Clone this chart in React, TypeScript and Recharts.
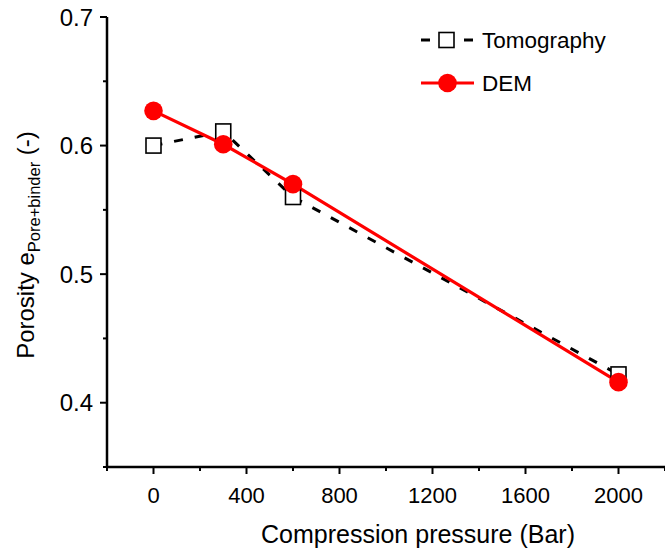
import { LineChart, Line, XAxis, YAxis } from 'recharts'

const pressure = [0, 300, 600, 2000]
const tomography = [0.6, 0.611, 0.56, 0.422]
const dem = [0.627, 0.601, 0.57, 0.416]

const xTicks = [-200, 0, 200, 400, 600, 800, 1000, 1200, 1400, 1600, 1800, 2000, 2200]
const yTicks = [0.35, 0.4, 0.45, 0.5, 0.55, 0.6, 0.65, 0.7]

const data = pressure.map((p, i) => ({ x: p, tomo: tomography[i], dem: dem[i] }))

const font = 'Arial, "Liberation Sans", sans-serif'

const XTick = (props: any) => {
  const { x, y, payload } = props
  const v = payload.value
  const major = v % 400 === 0
  return (
    <g>
      <line x1={x} y1={y} x2={x} y2={y + (major ? 7 : 4)} stroke="#000" strokeWidth={2} />
      {major && (
        <text x={x} y={y + 36} textAnchor="middle" fontSize={22} fontFamily={font} fill="#000">{v}</text>
      )}
    </g>
  )
}

const YTick = (props: any) => {
  const { x, y, payload } = props
  const v = payload.value
  const major = Math.round(v * 100) % 10 === 0
  return (
    <g>
      <line x1={x} y1={y} x2={x - (major ? 7 : 4)} y2={y} stroke="#000" strokeWidth={2} />
      {major && (
        <text x={x - 14} y={y + 8.5} textAnchor="end" fontSize={24} fontFamily={font} fill="#000">{v.toFixed(1)}</text>
      )}
    </g>
  )
}

const Square = (props: any) => {
  const { cx, cy } = props
  if (cx == null || cy == null) return null
  return <rect x={cx - 7.5} y={cy - 7.5} width={15} height={15} fill="#fff" stroke="#000" strokeWidth={1.6} />
}

const Dot = (props: any) => {
  const { cx, cy } = props
  if (cx == null || cy == null) return null
  return <circle cx={cx} cy={cy} r={9.3} fill="#ff0000" />
}

export default function App() {
  return (
    <div style={{ position: 'absolute', left: 0, top: 0, width: 665, height: 550, background: '#fff' }}>
      <LineChart width={665} height={550} data={data} margin={{ top: 17, right: 0, bottom: 0, left: 0 }}>
        <XAxis
          dataKey="x" type="number" domain={[-200, 2200]} ticks={xTicks} interval={0}
          height={83} tickSize={0} tickMargin={0} tickLine={false}
          axisLine={{ stroke: '#000', strokeWidth: 2.5 }}
          tick={<XTick />}
        />
        <YAxis
          type="number" domain={[0.35, 0.7]} ticks={yTicks} interval={0} width={107}
          tickSize={0} tickMargin={0} tickLine={false}
          axisLine={{ stroke: '#000', strokeWidth: 2.5 }}
          tick={<YTick />}
        />
        <Line
          dataKey="tomo" stroke="#000" strokeWidth={3} strokeDasharray="9 12"
          dot={<Square />} activeDot={false} isAnimationActive={false} legendType="none"
        />
        <Line
          dataKey="dem" stroke="#ff0000" strokeWidth={3.2}
          dot={<Dot />} activeDot={false} isAnimationActive={false} legendType="none"
        />
        <text x={418} y={543} textAnchor="middle" fontSize={25} fontFamily={font} fill="#000">
          Compression pressure (Bar)
        </text>
        <text x={34} y={245} transform="rotate(-90 34 245)" textAnchor="middle"
          fontFamily={font} fontSize={24} fill="#000">
          Porosity e<tspan fontSize={16.5} dy={6}>Pore+binder</tspan>
          <tspan dy={-6}> (-)</tspan>
        </text>
        <g>
          <line x1={421} y1={40} x2={430} y2={40} stroke="#000" strokeWidth={3} />
          <rect x={439} y={32.5} width={15} height={15} fill="#fff" stroke="#000" strokeWidth={1.6} />
          <line x1={464} y1={40} x2={473} y2={40} stroke="#000" strokeWidth={3} />
          <text x={482} y={48} fontSize={22.5} fontFamily={font} fill="#000">Tomography</text>
          <line x1={421} y1={83} x2={474} y2={83} stroke="#ff0000" strokeWidth={3.2} />
          <circle cx={447.5} cy={83} r={9.3} fill="#ff0000" />
          <text x={482} y={91} fontSize={22.5} fontFamily={font} fill="#000">DEM</text>
        </g>
      </LineChart>
    </div>
  )
}
